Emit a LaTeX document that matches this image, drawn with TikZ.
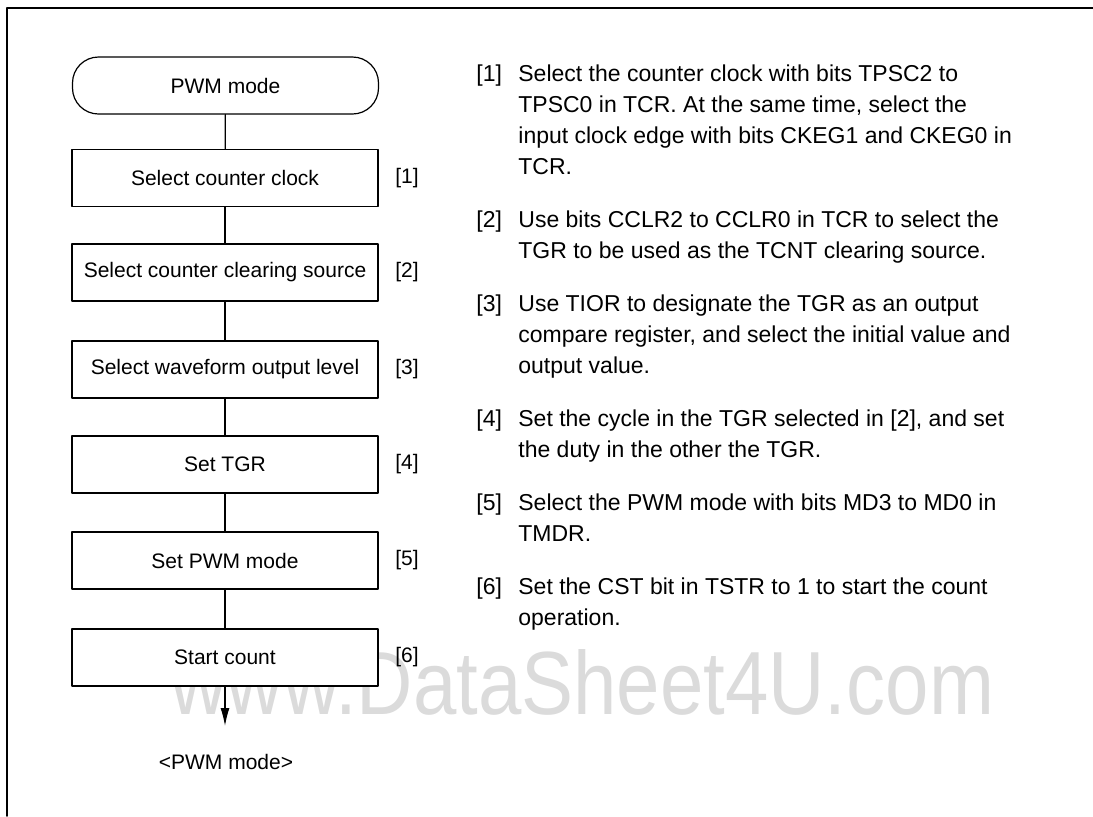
\documentclass[tikz,border=0pt]{standalone}
\usepackage{graphicx}
\usepackage{fontspec}
\setmainfont{Liberation Sans}
\usetikzlibrary{arrows.meta}
\begin{document}
\begin{tikzpicture}[x=0.5pt,y=-0.5pt,line join=round,line cap=round,
    passo/.style={draw,fill=white,line width=0.6pt,minimum width=153pt,minimum height=28.5pt,
      inner sep=0pt,font=\fontsize{10.5}{12}\selectfont},
    terminale/.style={passo,rounded corners=13pt},
    rif/.style={inner sep=0pt,font=\fontsize{10.5}{12}\selectfont},
    numero/.style={anchor=north west,inner sep=0pt,font=\fontsize{11.5}{15.5}\selectfont},
    nota/.style={numero,align=left},
    arco/.style={line width=0.6pt}]

  \useasboundingbox (0,0) rectangle (1093,816);

  % ---- filigrana ----------------------------------------------------------
  \node[anchor=base west,inner sep=0pt,text=black!14,font=\fontsize{39}{39}\selectfont]
    (filigrana) at (170,714) {\scalebox{1}[1.15]{www.DataSheet4U.com}};

  % ---- cornice --------------------------------------------------------------
  \draw[line width=0.8pt] (1093,8) -- (7,8) -- (7,816);

  % ---- diagramma di flusso --------------------------------------------------
  \node[terminale] (inizio) at (225.5,85.5) {PWM mode};
  \node[passo] (s1) at (225,178)   {Select counter clock};
  \node[passo] (s2) at (225,272.5) {Select counter clearing source};
  \node[passo] (s3) at (225,369.5) {Select waveform output level};
  \node[passo] (s4) at (225,464.5) {Set TGR};
  \node[passo] (s5) at (225,560.5) {Set PWM mode};
  \node[passo] (s6) at (225,657.5) {Start count};

  \node[rif] (r1) at (407,178)   {[1]};
  \node[rif] (r2) at (407,272.5) {[2]};
  \node[rif] (r3) at (407,369.5) {[3]};
  \node[rif] (r4) at (407,464.5) {[4]};
  \node[rif] (r5) at (407,560.5) {[5]};
  \node[rif] (r6) at (407,657.5) {[6]};

  \draw[arco] (inizio) -- (s1);
  \draw[arco] (s1) -- (s2);
  \draw[arco] (s2) -- (s3);
  \draw[arco] (s3) -- (s4);
  \draw[arco] (s4) -- (s5);
  \draw[arco] (s5) -- (s6);

  \coordinate (fine) at (225,726);
  \draw[arco,-{Latex[length=9pt,width=4.5pt]}] (s6) -- (fine);
  \node[rif] (uscita) at (226,762) {<PWM mode>};

  % ---- note a destra ----------------------------------------------------------
  \node[numero] (n1) at (476,64)  {[1]};
  \node[numero] (n2) at (476,210) {[2]};
  \node[numero] (n3) at (476,294) {[3]};
  \node[numero] (n4) at (476,409) {[4]};
  \node[numero] (n5) at (476,493) {[5]};
  \node[numero] (n6) at (476,577) {[6]};

  \node[nota] (t1) at (518,64)  {Select the counter clock with bits TPSC2 to\\
    TPSC0 in TCR. At the same time, select the\\
    input clock edge with bits CKEG1 and CKEG0 in\\ TCR.};
  \node[nota] (t2) at (518,210) {Use bits CCLR2 to CCLR0 in TCR to select the\\
    TGR to be used as the TCNT clearing source.};
  \node[nota] (t3) at (518,294) {Use TIOR to designate the TGR as an output\\
    compare register, and select the initial value and\\ output value.};
  \node[nota] (t4) at (518,409) {Set the cycle in the TGR selected in [2], and set\\
    the duty in the other the TGR.};
  \node[nota] (t5) at (518,493) {Select the PWM mode with bits MD3 to MD0 in\\ TMDR.};
  \node[nota] (t6) at (518,577) {Set the CST bit in TSTR to 1 to start the count\\ operation.};

\end{tikzpicture}
\end{document}
